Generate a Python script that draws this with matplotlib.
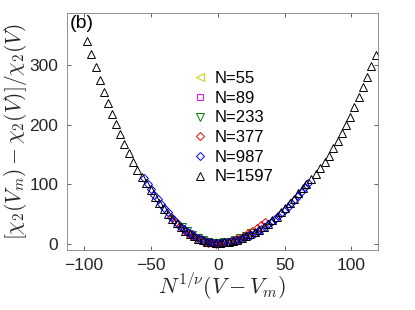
import numpy as np
import matplotlib
matplotlib.use('Agg')
import matplotlib.pyplot as plt

plt.rcParams['font.family'] = ['Liberation Sans', 'DejaVu Sans']
plt.rcParams['mathtext.fontset'] = 'cm'

# N=55
x55 = [-16, -10, -4, 2, 8, 14]
y55 = [12, 5.5, 2.5, 2, 3.5, 7]
# N=89
x89 = [-21, -16, -11, -6, -1, 4, 9, 14, 19]
y89 = [19, 12, 6.5, 3.5, 2, 2.5, 4, 7, 11]
# N=233
x233 = [-27, -23, -19, -15, -11, -7, -3, 1, 5, 9, 13, 17, 21, 25]
y233 = [29, 21, 15, 10, 6, 3, 2, 2, 2.5, 4, 6, 9.5, 14, 18]
# N=377
x377 = [-34, -31, -28, -25, -22, -19, -16, -13, -10, -7, -4, -1,
        2, 5, 8, 11, 14, 17, 20, 23, 26, 29, 32, 35]
y377 = [43, 37, 30, 24, 18.5, 14, 10, 6.5, 4, 2, 1, 0.5,
        1, 2, 3.5, 5.5, 8, 10.5, 14, 17.5, 21.5, 26, 31, 37]
# N=987
x987 = [-55, -52.5, -50, -47.5, -45, -42.5, -40, -37.5, -35, -32.5, -30,
        -27.5, -25, -22.5, -20, -17.5, -15, -12.5, -10, -7.5, -5, -2.5, 0,
        2.5, 5, 7.5, 10, 12.5, 15, 17.5, 20, 22.5, 25, 27.5, 30, 32.5, 35,
        37.5, 40, 42.5, 45, 47.5, 50, 52.5, 55, 57.5, 60, 62.5, 65, 67.5]
y987 = [111, 101, 92, 83, 75, 67, 60, 53, 46, 40, 34,
        29, 24.5, 20, 16.5, 13, 10, 7.5, 5.5, 4, 3, 2.2, 2,
        2.1, 2.5, 3.2, 4.2, 5.4, 7, 8.7, 10.8, 13.1, 15.7, 18.6, 21.8, 25.2, 29,
        33, 37.2, 41.7, 46.5, 51.6, 57, 62.6, 68.5, 74.7, 81.2, 88, 95, 102]
# N=1597
x1597 = [-98.25, -95, -91.5, -88.25, -85, -82, -79, -76, -73, -70, -66.75,
         -63.75, -60.25, -56.75, -53.5, -50.25, -47, -43.75, -40.5, -37.25,
         -34, -30.75, -27.5, -24.25, -21, -17.75, -14.5, -11.25, -8, -4.75,
         -1.5, 1.75, 5, 8.25, 11.5, 14.75, 18, 21.25, 24.5, 27.75, 31, 34.25,
         37.5, 40.75, 44, 47.25, 50.5, 53.75, 57, 60.25, 63.5, 66.25, 69.75,
         73.25, 76.75, 80, 83.25, 86.5, 89.75, 92.75, 96, 99, 102.25, 105.5,
         108.5, 112, 115, 118.25]
y1597 = [341, 319, 297, 276, 256, 236, 218, 201, 184, 168, 153,
         138, 125, 112, 102, 90, 79, 69, 59, 50,
         42, 35, 28, 22, 17, 13, 9, 6, 4, 3,
         2, 2, 2.5, 3.5, 5, 7, 9.5, 12.5, 16, 20, 24, 29,
         34, 40, 46, 53, 60, 68, 76, 85, 94, 101, 109,
         118, 127, 137, 148, 161, 173, 186, 200, 214, 230, 247,
         264, 281, 299, 318]

series = [
    (x55, y55, '<', (0.8, 0.8, 0.0), 'N=55'),
    (x89, y89, 's', (1.0, 0.0, 1.0), 'N=89'),
    (x233, y233, 'v', (0.0, 0.5, 0.0), 'N=233'),
    (x377, y377, 'D', (1.0, 0.0, 0.0), 'N=377'),
    (x987, y987, 'D', (0.0, 0.0, 1.0), 'N=987'),
    (x1597, y1597, '^', (0.0, 0.0, 0.0), 'N=1597'),
]

fig = plt.figure(figsize=(4.15, 3.1), dpi=100)
ax = fig.add_axes([0.161, 0.194, 0.750, 0.764])

for xs, ys, m, c, lab in series:
    ms = 4.2 if m in ('D', 's') else 5.5
    ax.plot(xs, ys, linestyle='none', marker=m, markersize=ms,
            markerfacecolor='none', markeredgecolor=c, markeredgewidth=0.7,
            label=lab)

ax.set_xlim(-113, 120)
ax.set_ylim(-10, 388)
ax.set_xticks([-100, -50, 0, 50, 100])
ax.set_yticks([0, 100, 200, 300])
gray = (0.15, 0.15, 0.15)
ax.tick_params(direction='in', length=3, width=0.5, top=True, right=True,
               labelsize=12.5, colors=gray, pad=6)
for s in ax.spines.values():
    s.set_linewidth(0.6)
    s.set_color((0.5, 0.5, 0.5))

ax.set_xlabel(r'$N^{1/\nu}(V-V_m)$', fontsize=16, color=gray, labelpad=-1)
ax.set_ylabel(r'$[\chi_2(V_m)-\chi_2(V)]/\chi_2(V)$', fontsize=15.5,
              color=gray, labelpad=0)

ax.text(0.01, 0.99, '(b)', transform=ax.transAxes, fontsize=14,
        ha='left', va='top')

leg = ax.legend(loc='upper left', bbox_to_anchor=(0.38, 0.79), frameon=False,
                fontsize=12, handlelength=0.8, handletextpad=0.5,
                labelspacing=0.28, borderpad=0)

fig.savefig('out.png', dpi=100)
